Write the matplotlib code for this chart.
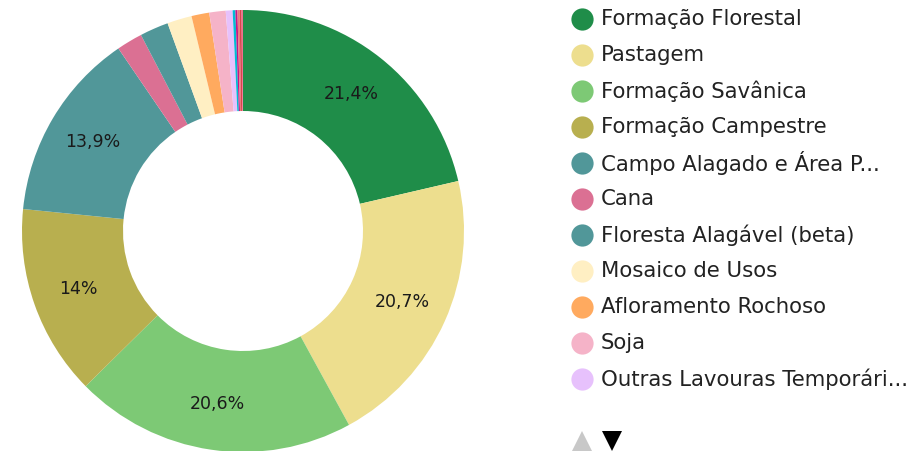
import matplotlib
matplotlib.use("Agg")
import matplotlib.pyplot as plt
import numpy as np

# slice values (percent), clockwise from the top
values = [21.4, 20.7, 20.6, 14.0, 13.9, 1.9, 2.1, 1.8, 1.3, 1.2, 0.5, 0.2, 0.15, 0.15, 0.15, 0.1]
colors = ['#1f8d49', '#edde8e', '#7dc975', '#b8af4f', '#519799', '#db7093', '#519799',
          '#ffefc3', '#ffaa5f', '#f5b3c8', '#e7c1fc', '#00bcd4', '#c71585', '#e97a7a',
          '#d6454b', '#ef6f8f']

legend_names = ['Formação Florestal', 'Pastagem', 'Formação Savânica', 'Formação Campestre',
                'Campo Alagado e Área P...', 'Cana', 'Floresta Alagável (beta)',
                'Mosaico de Usos', 'Afloramento Rochoso', 'Soja', 'Outras Lavouras Temporári...']

plt.rcParams['font.family'] = ['DejaVu Sans']

W, H = 920, 451
fig = plt.figure(figsize=(W / 100, H / 100), dpi=100)

# donut: center (243, 231) px, outer radius 221 px
cx, cy, r = 243, 231, 221
ax = fig.add_axes([(cx - r) / W, (H - cy - r) / H, 2 * r / W, 2 * r / H])
wedges, _ = ax.pie(values, colors=colors, startangle=90, counterclock=False, radius=1,
                   wedgeprops=dict(width=1 - 120 / 221, linewidth=0))
ax.set_xlim(-1, 1)
ax.set_ylim(-1, 1)
ax.set_aspect('equal')
ax.axis('off')


def fmt(v):
    s = f"{v:.1f}".rstrip('0').rstrip('.')
    return s.replace('.', ',') + '%'


total = sum(values)
start = 90.0
mid_r = 0.79
for v in values:
    ang = start - v / total * 360 / 2
    start -= v / total * 360
    if v < 5:
        continue
    a = np.deg2rad(ang)
    ax.text(mid_r * np.cos(a), mid_r * np.sin(a), fmt(v), ha='center', va='center',
            fontsize=12.5, color='#1a1a1a')

# legend drawn by hand
for i, name in enumerate(legend_names):
    y = 1 - (19 + 36 * i) / H
    fig.add_artist(plt.Line2D([582 / W], [y], marker='o', markersize=16, color=colors[i],
                              markeredgewidth=0, transform=fig.transFigure))
    fig.text(601 / W, y, name, ha='left', va='center', fontsize=15.3, color='#222222')

# pager arrows
ya = 1 - 441 / H
fig.add_artist(plt.Line2D([582 / W], [ya], marker='^', markersize=15, color='#c8c8c8',
                          markeredgewidth=0, transform=fig.transFigure))
fig.add_artist(plt.Line2D([612 / W], [ya], marker='v', markersize=15, color='black',
                          markeredgewidth=0, transform=fig.transFigure))

fig.savefig('out.png', dpi=100)
